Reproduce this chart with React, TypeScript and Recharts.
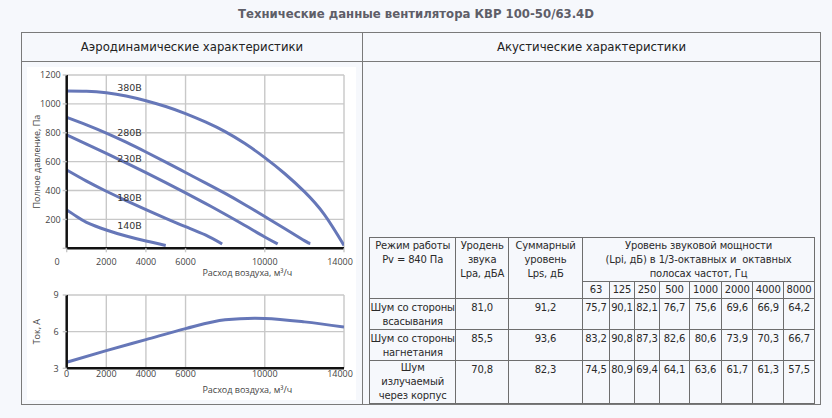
import { LineChart, Line, XAxis, YAxis, CartesianGrid, ReferenceDot, Label } from 'recharts';

const TITLE = 'Технические данные вентилятора КВР 100-50/63.4D';
const LEFT_HEAD = 'Аэродинамические характеристики';
const RIGHT_HEAD = 'Акустические характеристики';

const FLOW_TICKS = [0, 2000, 4000, 6000, 8000, 10000, 12000, 14000];
const PRESSURE_TICKS = [0, 200, 400, 600, 800, 1000, 1200];
const CURRENT_TICKS = [3, 6, 9];

// pressure curves, Pa vs m3/h
const FLOW_380 = [0, 1000, 2000, 3000, 4000, 5000, 6000, 7000, 8000, 9000, 10000, 11000, 12000, 13000, 14000];
const P_380 = [1090, 1088, 1077, 1055, 1022, 982, 933, 875, 808, 725, 628, 518, 392, 235, 20];
const FLOW_280 = [0, 1000, 2000, 3000, 4000, 5000, 6000, 7000, 8000, 9000, 10000, 11000, 12000, 12300];
const P_280 = [907, 855, 798, 735, 667, 597, 525, 453, 380, 302, 220, 137, 53, 33];
const FLOW_230 = [0, 1000, 2000, 3000, 4000, 5000, 6000, 7000, 8000, 9000, 10000, 10650];
const P_230 = [785, 722, 658, 592, 524, 455, 384, 311, 236, 158, 78, 30];
const FLOW_180 = [0, 1000, 2000, 3000, 4000, 5000, 6000, 7000, 7850];
const P_180 = [542, 465, 395, 330, 268, 208, 150, 93, 30];
const FLOW_140 = [0, 500, 1000, 2000, 3000, 4000, 5000];
const P_140 = [265, 220, 180, 127, 85, 50, 20];

const CURVE_NAMES = ['380В', '280В', '230В', '180В', '140В'];
const LABEL_FLOW = [3170, 3170, 3170, 3170, 3170];
const LABEL_PRESSURE = [1110, 798, 618, 348, 154];

// current, A
const FLOW_I = [0, 2000, 4000, 6000, 8000, 9500, 10000, 12000, 14000];
const CURRENT = [3.5, 4.45, 5.35, 6.25, 6.97, 7.1, 7.08, 6.8, 6.38];

// acoustics table
const FREQS = ['63', '125', '250', '500', '1000', '2000', '4000', '8000'];
const ROW_NAMES = [['Шум со стороны', 'всасывания'], ['Шум со стороны', 'нагнетания'], ['Шум', 'излучаемый', 'через корпус']];
const LPA = [81.0, 85.5, 70.8];
const LPS = [91.2, 93.6, 82.3];
const LPI_SUCTION = [75.7, 90.1, 82.1, 76.7, 75.6, 69.6, 66.9, 64.2];
const LPI_DISCHARGE = [83.2, 90.8, 87.3, 82.6, 80.6, 73.9, 70.3, 66.7];
const LPI_CASING = [74.5, 80.9, 69.4, 64.1, 63.6, 61.7, 61.3, 57.5];

const LINE = '#6677b8';
const GRID = '#c8c8c8';
const TICK_FONT = '"Open Sans", "Liberation Sans", sans-serif';
const TABLE_FONT = '"DejaVu Sans", Verdana, sans-serif';

const zip = (xs: number[], ys: number[]) => xs.map((x, i) => ({ x, y: ys[i] }));
const curves = [
  zip(FLOW_380, P_380),
  zip(FLOW_280, P_280),
  zip(FLOW_230, P_230),
  zip(FLOW_180, P_180),
  zip(FLOW_140, P_140),
];
const currentData = zip(FLOW_I, CURRENT);
const comma = (v: number) => v.toFixed(1).replace('.', ',');

function FlowTick(props: any) {
  const { x, y, payload, hideZero } = props;
  if (hideZero && payload.value === 0) return null;
  return (
    <text x={x} y={y} dy={6.5} textAnchor="middle" fontSize={9} fontFamily={TICK_FONT} fill="#444">
      {payload.value}
    </text>
  );
}

function PressureTick(props: any) {
  const { x, y, payload } = props;
  if (payload.value === 0) {
    return (
      <text x={x - 1} y={y + 16.5} textAnchor="end" fontSize={9} fontFamily={TICK_FONT} fill="#444">0</text>
    );
  }
  return (
    <text x={x} y={y} dy={3.2} textAnchor="end" fontSize={9} fontFamily={TICK_FONT} fill="#444">
      {payload.value}
    </text>
  );
}

function CurrentTick(props: any) {
  const { x, y, payload } = props;
  return (
    <text x={x} y={y} dy={3.2} textAnchor="end" fontSize={9} fontFamily={TICK_FONT} fill="#444">
      {payload.value}
    </text>
  );
}

function flowTitle(dy: number) {
  return (props: any) => {
    const vb = props.viewBox;
    return (
      <text x={vb.x + vb.width / 2 + 42} y={vb.y + dy} textAnchor="middle" fontSize={9} fontFamily={TICK_FONT} fill="#444">
        Расход воздуха, м³/ч
      </text>
    );
  };
}

function PressureChart() {
  return (
    <LineChart width={360} height={230} margin={{ top: 15, right: 16, bottom: 11.7, left: 26.7 }}>
      <CartesianGrid stroke={GRID} strokeWidth={1.4} />
      <XAxis
        type="number"
        dataKey="x"
        domain={[0, 14000]}
        ticks={FLOW_TICKS}
        allowDataOverflow
        height={30}
        axisLine={{ stroke: '#111', strokeWidth: 2.5 }}
        tickLine={{ stroke: GRID, strokeWidth: 1.4 }}
        tickSize={4}
        tickMargin={6}
        tick={<FlowTick hideZero />}
      >
        <Label content={flowTitle(28)} />
      </XAxis>
      <YAxis
        type="number"
        dataKey="y"
        domain={[0, 1200]}
        ticks={PRESSURE_TICKS}
        allowDataOverflow
        width={40}
        axisLine={{ stroke: '#111', strokeWidth: 2.5 }}
        tickLine={{ stroke: GRID, strokeWidth: 1.4 }}
        tickSize={4}
        tickMargin={2}
        tick={<PressureTick />}
      >
        <Label
          value="Полное давление, Па"
          angle={-90}
          position="insideLeft"
          offset={10}
          style={{ textAnchor: 'middle', fontSize: 9, fontFamily: TICK_FONT, fill: '#444' }}
        />
      </YAxis>
      {curves.map((d, i) => (
        <Line
          key={CURVE_NAMES[i]}
          data={d}
          dataKey="y"
          type="natural"
          stroke={LINE}
          strokeWidth={3}
          dot={false}
          isAnimationActive={false}
        />
      ))}
      {CURVE_NAMES.map((name, i) => (
        <ReferenceDot
          key={'l' + name}
          x={LABEL_FLOW[i]}
          y={LABEL_PRESSURE[i]}
          r={0}
          fill="none"
          stroke="none"
          label={{ value: name, position: 'center', fontSize: 9.5, fontFamily: TABLE_FONT, fill: '#333' }}
        />
      ))}
    </LineChart>
  );
}

function CurrentChart() {
  return (
    <LineChart width={360} height={125} margin={{ top: 15, right: 16, bottom: 6.7, left: 26.7 }}>
      <CartesianGrid stroke={GRID} strokeWidth={1.4} />
      <XAxis
        type="number"
        dataKey="x"
        domain={[0, 14000]}
        ticks={FLOW_TICKS}
        allowDataOverflow
        height={30}
        axisLine={{ stroke: '#111', strokeWidth: 2.5 }}
        tickLine={false}
        tickSize={0}
        tickMargin={2}
        tick={<FlowTick />}
      >
        <Label content={flowTitle(25)} />
      </XAxis>
      <YAxis
        type="number"
        dataKey="y"
        domain={[3, 9]}
        ticks={CURRENT_TICKS}
        allowDataOverflow
        width={40}
        axisLine={{ stroke: '#111', strokeWidth: 2.5 }}
        tickLine={{ stroke: GRID, strokeWidth: 1.4 }}
        tickSize={4}
        tickMargin={4}
        tick={<CurrentTick />}
      >
        <Label
          value="Ток, А"
          angle={-90}
          position="insideLeft"
          offset={10}
          style={{ textAnchor: 'middle', fontSize: 9, fontFamily: TICK_FONT, fill: '#444' }}
        />
      </YAxis>
      <Line
        data={currentData}
        dataKey="y"
        type="monotone"
        stroke={LINE}
        strokeWidth={3}
        dot={false}
        isAnimationActive={false}
      />
    </LineChart>
  );
}

const td: React.CSSProperties = {
  border: '1px solid #6e6e6e',
  padding: '1px 0 0',
  verticalAlign: 'top',
  textAlign: 'center',
  whiteSpace: 'pre',
};

function Lines({ lines }: { lines: string[] }) {
  return (
    <>
      {lines.map((l, i) => (
        <div key={i}>{l}</div>
      ))}
    </>
  );
}

function AcousticTable() {
  const rows = [LPI_SUCTION, LPI_DISCHARGE, LPI_CASING];
  const colW = [86.4, 52.6, 74, 27, 25, 25, 30, 32, 31.5, 30.5, 31];
  const rowH = [30, 30, 43];
  return (
    <table
      style={{
        position: 'absolute',
        left: 369,
        top: 236.5,
        width: 445.5,
        borderCollapse: 'collapse',
        tableLayout: 'fixed',
        fontFamily: TABLE_FONT,
        fontSize: 10,
        letterSpacing: -0.15,
        lineHeight: '14px',
        color: '#2a2a2a',
      }}
    >
      <colgroup>
        {colW.map((w, i) => (
          <col key={i} style={{ width: w }} />
        ))}
      </colgroup>
      <tbody>
        <tr style={{ height: 43 }}>
          <td style={td} rowSpan={2}><Lines lines={['Режим работы', 'Pv = 840 Па']} /></td>
          <td style={td} rowSpan={2}><Lines lines={['Уродень', 'звука', 'Lpa, дБА']} /></td>
          <td style={td} rowSpan={2}><Lines lines={['Суммарный', 'уровень', 'Lps, дБ']} /></td>
          <td style={td} colSpan={8}>
            <Lines lines={['Уровень звуковой мощности', '(Lpi, дБ) в 1/3-октавных и  октавных', 'полосах частот, Гц']} />
          </td>
        </tr>
        <tr style={{ height: 17 }}>
          {FREQS.map((f) => (
            <td key={f} style={{ ...td, padding: 0, verticalAlign: 'middle' }}>{f}</td>
          ))}
        </tr>
        {rows.map((vals, r) => (
          <tr key={r} style={{ height: rowH[r] }}>
            <td style={{ ...td, paddingTop: r === 2 ? 0 : 2 }}><Lines lines={ROW_NAMES[r]} /></td>
            <td style={{ ...td, paddingTop: 2 }}>{comma(LPA[r])}</td>
            <td style={{ ...td, paddingTop: 2 }}>{comma(LPS[r])}</td>
            {vals.map((v, i) => (
              <td key={i} style={{ ...td, paddingTop: 2 }}>{comma(v)}</td>
            ))}
          </tr>
        ))}
      </tbody>
    </table>
  );
}

export default function App() {
  const border = '#7a7a7a';
  const head: React.CSSProperties = {
    position: 'absolute',
    top: 33,
    height: 28,
    lineHeight: '28px',
    textAlign: 'center',
    fontFamily: '"DejaVu Sans Condensed", "Liberation Sans", sans-serif',
    fontSize: 13,
    color: '#222',
  };
  return (
    <div style={{ position: 'absolute', left: 0, top: 0, width: 832, height: 418, background: '#f6f8fc', overflow: 'hidden' }}>
      <div
        style={{
          position: 'absolute',
          left: 0,
          top: 4,
          width: 832,
          textAlign: 'center',
          fontFamily: '"DejaVu Sans Condensed", "Liberation Sans", sans-serif',
          fontWeight: 'bold',
          fontSize: 13,
          color: '#5e5e68',
          lineHeight: '20px',
        }}
      >
        {TITLE}
      </div>
      <div style={{ position: 'absolute', left: 21, top: 32, width: 800, height: 373, border: `1px solid ${border}`, boxSizing: 'border-box' }} />
      <div style={{ position: 'absolute', left: 21, top: 61, width: 800, height: 1, background: border }} />
      <div style={{ position: 'absolute', left: 361.5, top: 32, width: 1, height: 373, background: border }} />
      <div style={{ ...head, left: 22, width: 340 }}>{LEFT_HEAD}</div>
      <div style={{ ...head, left: 362, width: 459 }}>{RIGHT_HEAD}</div>
      <div style={{ position: 'absolute', left: 27, top: 67, width: 329, height: 333, background: '#fff' }} />
      <div style={{ position: 'absolute', left: 0, top: 60 }}>
        <PressureChart />
      </div>
      <div style={{ position: 'absolute', left: 0, top: 280 }}>
        <CurrentChart />
      </div>
      <AcousticTable />
    </div>
  );
}
